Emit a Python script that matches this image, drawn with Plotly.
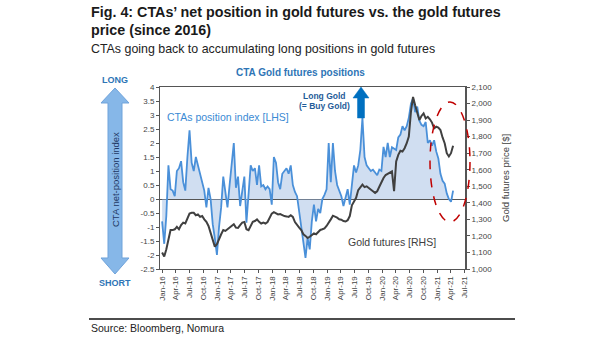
import pandas as pd
import plotly.graph_objects as go

# CTA net-position index (LHS), fortnightly from Jan 2016
cta_index = [
    -0.8, -1.6, -0.6, 1.2, 0.35, 0.3, 0.1, 1.0, 1.1, 1.35,
    0.6, 0.3, 1.5, 2.45, 1.3, 1.0, 1.5, 1.2, 1.0, 0.7,
    0.3, -0.3, 0.4, 0.0, -0.9, -1.4, -2.0, -1.0, -0.3, 0.8,
    0.3, -0.3, 0.5, 1.4, 2.0, 0.4, 0.8, -0.25, 0.3, 0.8,
    -0.85, 0.2, 1.2, 1.0, 1.1, 0.5, 1.2, 0.45, 0.5, 0.35,
    0.45, 0.35, -0.2, 1.5, 1.3, 0.6, 0.35, 0.9, 1.0, 1.1,
    0.9, 1.2, 0.5, 0.25, 0.1, -0.5, -0.9, -1.6, -2.1, -1.4,
    -1.8, -0.8, -0.2, -0.8, -0.35, -0.5, 0.0, 0.15, 0.35, 2.0,
    0.6, 2.0, 1.0, 0.5, 0.3, 0.1, -0.25, 0.1, 0.35, -0.2,
    0.5, 1.2, 0.95, 1.2, 1.75, 2.9, 1.5, 1.2, 1.1, 1.0,
    1.05, 0.95, 0.85, 1.05, 1.0, 1.86, 1.5, 2.0, 1.5, 1.85,
    1.8, 1.75, 2.2, 2.3, 2.6, 2.45, 2.6, 2.9, 3.4, 3.6,
    3.1, 3.3, 2.8, 2.65, 2.6, 2.75, 2.0, 2.1, 1.9, 2.1,
    1.7, 1.45, 0.9, 0.65, 0.55, 0.2, 0.0, -0.1, 0.3,
]

# Gold futures price in USD (RHS), same dates
gold_price = [
    1100, 1075, 1120, 1170, 1235, 1235, 1240, 1255, 1240, 1265,
    1280, 1275, 1300, 1335, 1340, 1340, 1325, 1330, 1315, 1320,
    1300, 1285, 1260, 1215, 1170, 1135, 1150, 1185, 1210, 1235,
    1230, 1240, 1250, 1265, 1270, 1250, 1248, 1265, 1280, 1284,
    1240, 1235, 1265, 1285, 1290, 1300, 1285, 1275, 1280, 1275,
    1284, 1310, 1335, 1344, 1335, 1330, 1332, 1325, 1320, 1318,
    1315, 1325, 1315, 1284, 1270, 1250, 1235, 1210, 1200, 1187,
    1195, 1205, 1215, 1210, 1225, 1236, 1240, 1245, 1260, 1285,
    1300, 1322, 1318, 1310, 1300, 1298, 1290, 1287, 1295, 1320,
    1385, 1410, 1430, 1477, 1497, 1510, 1495, 1500, 1490, 1477,
    1470, 1460, 1470, 1497, 1525, 1550, 1568, 1575, 1585, 1590,
    1470, 1650, 1690, 1715, 1710, 1730, 1760, 1800, 1950, 2040,
    1990, 1940, 1900, 1925, 1940, 1910, 1920, 1905, 1885, 1850,
    1860, 1855, 1840, 1795, 1760, 1700, 1680, 1700, 1745,
]

dates = pd.date_range("2016-01-01", periods=len(cta_index), freq="14D")

lhs_ticks = [-2.5, -2, -1.5, -1, -0.5, 0, 0.5, 1, 1.5, 2, 2.5, 3, 3.5, 4]
lhs_labels = ["-2.5", "-2", "-1.5", "-1", "-0.5", "0", "0.5", "1", "1.5", "2",
              "2.5", "3", "3.5", "4"]

W, H = 605, 341
L, R, T, B = 160, 465, 87, 269   # plot area edges in pixels


def px(x):
    return (x - L) / (R - L)


def py(y):
    return (B - y) / (B - T)


BLUE = "#4A90D9"
DARK = "#404040"
TXT_BLUE = "#2E75B6"

fig = go.Figure()

fig.add_trace(go.Scatter(
    x=dates, y=cta_index, mode="lines", name="CTAs position index [LHS]",
    line=dict(color=BLUE, width=1.8), fill="tozeroy",
    fillcolor="rgba(150,182,225,0.45)", yaxis="y",
))
fig.add_trace(go.Scatter(
    x=dates, y=gold_price, mode="lines", name="Gold futures [RHS]",
    line=dict(color=DARK, width=2), yaxis="y2",
))

tick_font = dict(family="Liberation Sans, Arial, sans-serif", size=8, color="#444444")

fig.update_layout(
    width=W, height=H,
    margin=dict(l=L, r=W - R, t=T, b=H - B, pad=0),
    paper_bgcolor="white", plot_bgcolor="white",
    showlegend=False,
    xaxis=dict(
        range=["2015-12-18", "2021-07-04"], type="date",
        tick0="2016-01-01", dtick="M3", tickformat="%b-%y", tickangle=-90,
        tickfont=tick_font, ticks="outside", ticklen=3, tickcolor="#555555",
        showline=True, linecolor="#555555", linewidth=1, mirror=True,
        showgrid=False, zeroline=False,
    ),
    yaxis=dict(
        range=[-2.5, 4], tickvals=lhs_ticks, ticktext=lhs_labels,
        tickfont=tick_font, ticks="outside", ticklen=3, tickcolor="#555555",
        showline=True, linecolor="#555555", linewidth=1,
        showgrid=False, zeroline=True, zerolinecolor="#555555", zerolinewidth=1,
    ),
    yaxis2=dict(
        range=[1000, 2100], dtick=100, tickformat=",", overlaying="y", side="right",
        tickfont=tick_font, ticks="outside", ticklen=3, tickcolor="#555555",
        showline=True, linecolor="#555555", linewidth=2,
        showgrid=False, zeroline=False,
    ),
)

ann = []


def text(x, y, s, size, color, bold=False, anchor="left", angle=0, family=None):
    ann.append(dict(
        x=px(x), y=py(y), xref="paper", yref="paper", text=f"<b>{s}</b>" if bold else s,
        showarrow=False, xanchor=anchor, yanchor="middle", textangle=angle,
        font=dict(family=family or "Liberation Sans, Arial, sans-serif", size=size, color=color),
    ))


text(89, 12, "Fig. 4: CTAs’ net position in gold futures vs. the gold futures", 14.3, "#1a1a1a", bold=True)
text(89, 30, "price (since 2016)", 14.3, "#1a1a1a", bold=True)
text(89, 49, "CTAs going back to accumulating long positions in gold futures", 12.4, "#222222")
text(300, 72, "CTA Gold futures positions", 10, TXT_BLUE, bold=True, anchor="center")
text(115, 80, "LONG", 9, TXT_BLUE, bold=True, anchor="center")
text(115, 283, "SHORT", 9, TXT_BLUE, bold=True, anchor="center")
text(115, 180, "CTA net-position index", 9.5, "#1F3864", anchor="center", angle=-90)
text(165, 117, "CTAs position index [LHS]", 10.5, "#3A8AD4")
text(324, 96, "Long Gold", 8.5, "#1F5C99", bold=True, anchor="center")
text(324, 106, "(= Buy Gold)", 8.5, "#1F5C99", bold=True, anchor="center")
text(346, 242, "Gold futures [RHS]", 10.5, DARK)
text(505, 178, "Gold futures price [$]", 9.5, DARK, anchor="center", angle=-90)
text(89, 328, "Source: Bloomberg, Nomura", 10.5, "#222222")

fig.update_layout(annotations=ann)


def path(points):
    return "M " + " L ".join(f"{px(x):.5f},{py(y):.5f}" for x, y in points) + " Z"


# large double-headed arrow on the left
double_arrow = [(115, 88), (129, 103), (122, 103), (122, 258), (129, 258), (115, 274),
                (101, 258), (108, 258), (108, 103), (101, 103)]
# small upward arrow next to "Long Gold"
up_arrow = [(361, 87), (369, 98), (364.5, 98), (364.5, 118), (357.5, 118), (357.5, 98), (353, 98)]

fig.update_layout(shapes=[
    dict(type="path", xref="paper", yref="paper", path=path(double_arrow),
         fillcolor="#86B7E8", line=dict(color="#6FA3DB", width=1), layer="above"),
    dict(type="path", xref="paper", yref="paper", path=path(up_arrow),
         fillcolor="#0070C0", line=dict(color="#0070C0", width=0.5), layer="above"),
    dict(type="circle", xref="paper", yref="paper",
         x0=px(430), x1=px(470), y0=py(222), y1=py(102),
         line=dict(color="#C00000", width=1.5, dash="dash"), layer="above"),
    dict(type="line", xref="paper", yref="paper",
         x0=px(89), x1=px(515), y0=py(319), y1=py(319),
         line=dict(color="#111111", width=1.5)),
])

fig.write_html("out.html")
